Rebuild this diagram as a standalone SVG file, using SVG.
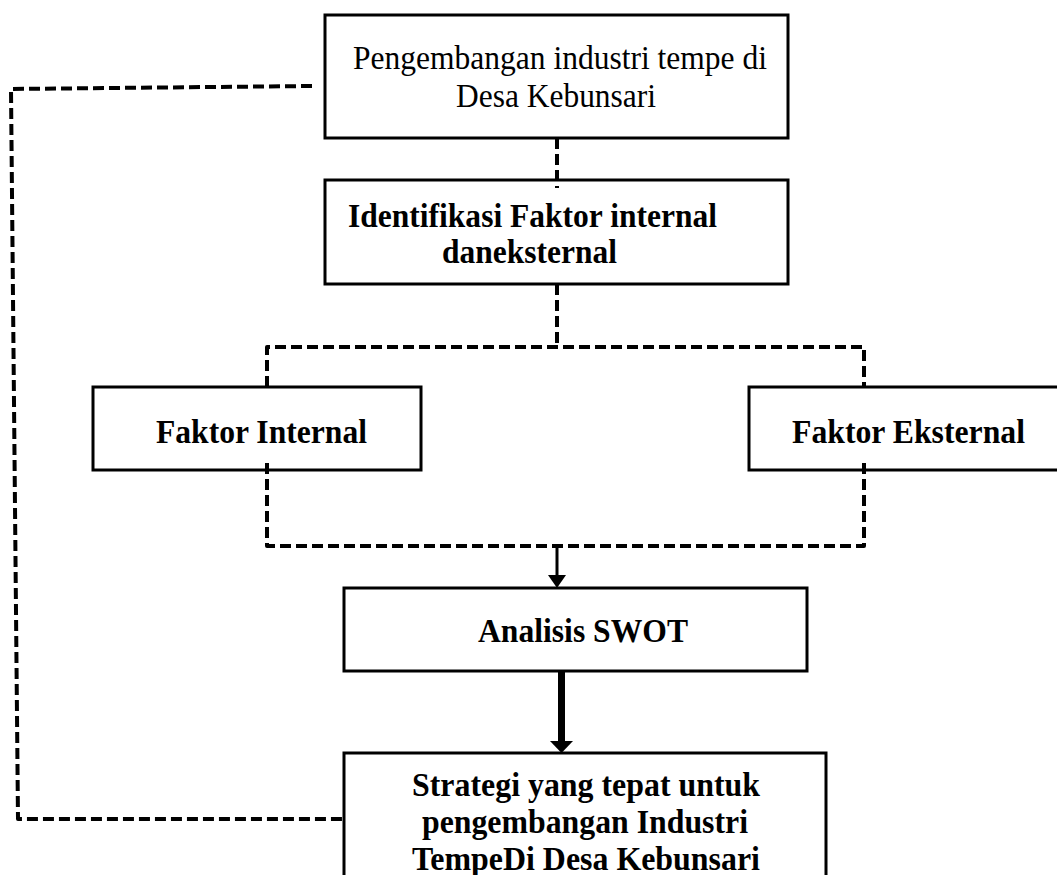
<svg xmlns="http://www.w3.org/2000/svg" width="1057" height="875" viewBox="0 0 1057 875">
<style>
.box{fill:#fff;stroke:#000;stroke-width:3}
.t{font-family:"Liberation Serif","Times New Roman",serif;font-size:33px;fill:#000;text-anchor:middle}
.b{font-weight:bold}
.dash{fill:none;stroke:#000;stroke-width:4;stroke-dasharray:11 5;stroke-linejoin:round}
.solid{fill:none;stroke:#000;stroke-width:3}
</style>
<rect width="1057" height="875" fill="#fff"/>
<g id="node-pengembangan">
<rect class="box" x="325" y="15" width="463" height="123"/>
<text class="t" x="560" y="69" textLength="414" lengthAdjust="spacingAndGlyphs">Pengembangan industri tempe di</text>
<text class="t" x="556" y="107" textLength="200" lengthAdjust="spacingAndGlyphs">Desa Kebunsari</text>
</g>
<g id="node-identifikasi">
<rect class="box" x="325" y="180" width="463" height="104"/>
<text class="t b" x="532.5" y="227" textLength="369" lengthAdjust="spacingAndGlyphs">Identifikasi Faktor internal</text>
<text class="t b" x="529.5" y="263" textLength="175" lengthAdjust="spacingAndGlyphs">daneksternal</text>
</g>
<g id="node-faktor-internal">
<rect class="box" x="93" y="387" width="328" height="83"/>
<text class="t b" x="261.5" y="443" textLength="211" lengthAdjust="spacingAndGlyphs">Faktor Internal</text>
</g>
<g id="node-faktor-eksternal">
<rect class="box" x="749" y="387" width="320" height="83"/>
<text class="t b" x="908.5" y="443" textLength="233" lengthAdjust="spacingAndGlyphs">Faktor Eksternal</text>
</g>
<g id="node-swot">
<rect class="box" x="344" y="588" width="463" height="83"/>
<text class="t b" x="583" y="642" textLength="210" lengthAdjust="spacingAndGlyphs">Analisis SWOT</text>
</g>
<g id="node-strategi">
<rect class="box" x="344" y="753" width="482" height="130"/>
<text class="t b" x="586" y="796" textLength="348" lengthAdjust="spacingAndGlyphs">Strategi yang tepat untuk</text>
<text class="t b" x="585" y="833" textLength="326" lengthAdjust="spacingAndGlyphs">pengembangan Industri</text>
<text class="t b" x="586" y="870" textLength="348" lengthAdjust="spacingAndGlyphs">TempeDi Desa Kebunsari</text>
</g>
<g id="connectors">
<path class="dash" d="M557 138 V188"/>
<path class="dash" d="M557 284 V347"/>
<path class="dash" d="M267 387 V347 H864 V387"/>
<path class="dash" d="M267 463 V546 H864 V463"/>
<path class="solid" d="M557 546 V577"/>
<polygon points="548,575 566,575 557,588" fill="#000"/>
<rect x="558" y="671" width="7" height="72" fill="#000"/>
<polygon points="550,741 573,741 561.5,753" fill="#000"/>
<path class="dash" d="M312 86 L11 89 L18 819 L344 819"/>
</g>
</svg>
